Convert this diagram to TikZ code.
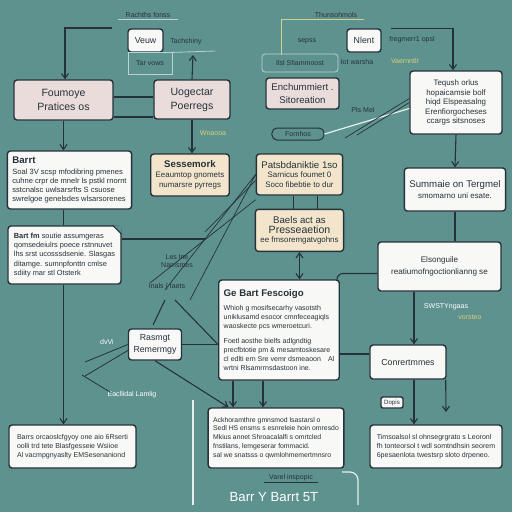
\documentclass[tikz,border=0pt]{standalone}
\usepackage{fontspec}
\setmainfont{Liberation Sans}
\usetikzlibrary{arrows.meta,positioning}
\usepackage{xcolor}
\definecolor{teal50}{HTML}{5E928F}
\definecolor{ink90}{HTML}{26323A}
\definecolor{rose10}{HTML}{EADCDB}
\definecolor{sand10}{HTML}{F2E5CC}
\definecolor{paper}{HTML}{F8F8F6}
\definecolor{mist}{HTML}{B9D3CF}
\definecolor{straw}{HTML}{D9CF7A}
\newlength\pxu
\setlength\pxu{0.02cm}

\begin{document}
\begin{tikzpicture}[x=0.02cm, y=-0.02cm,
    card/.style={draw=ink90, line width=1.4\pxu, rounded corners=3\pxu, fill=paper, text=ink90, inner xsep=5\pxu, inner ysep=3\pxu, font=\fontsize{4}{5}\selectfont},
    rosebox/.style={card, fill=rose10, align=center, font=\fontsize{6}{8}\selectfont},
    sandbox/.style={card, fill=sand10, align=center, font=\fontsize{4.5}{5.6}\selectfont},
    link/.style={draw=ink90, line width=1.1\pxu},
    arrow/.style={link, -{Straight Barb[length=2.8pt, width=4pt]}},
    twoway/.style={link, {Straight Barb[length=2.8pt, width=4pt]}-{Straight Barb[length=2.8pt, width=4pt]}},
    faint/.style={draw=mist, line width=0.8\pxu},
    pale/.style={draw=white!85!teal50, line width=1.2\pxu},
    note/.style={font=\fontsize{4}{5}\selectfont, text=ink90, inner sep=1\pxu},
]
\fill[teal50] (0,0) rectangle (512,512);
\useasboundingbox (0,0) rectangle (512,512);

% top row
\node[card, font=\fontsize{5}{6}\selectfont, minimum width=35\pxu, minimum height=23\pxu] (veuw) at (145.5,40.5) {Veuw};
\node[card, font=\fontsize{5}{6}\selectfont, minimum width=34\pxu, minimum height=23\pxu] (nlent) at (364,40.5) {Nlent};

\node[rosebox, minimum width=99\pxu, minimum height=40\pxu] (foum) at (63.5,100) {Foumoye\\Pratices os};
\node[rosebox, minimum width=76\pxu, minimum height=39\pxu] (uoge) at (192,99.5) {Uogectar\\Poerregs};
\node[rosebox, font=\fontsize{5.5}{7.5}\selectfont, minimum width=73\pxu, minimum height=31\pxu] (ench) at (302.5,93.5) {Enchummiert .\\Sitoreation};
\node[card, align=center, font=\fontsize{4.5}{5.4}\selectfont, minimum width=92\pxu, minimum height=63\pxu] (tequ) at (456,102.5) {Teqush orlus\\hopaicamsie bolf\\hiqd Elspeasalng\\Erenfiorgocheses\\ccargs sitsnoses};

% middle
\node[card, align=left, font=\fontsize{4.3}{5.2}\selectfont, minimum width=123\pxu, minimum height=58\pxu] (barrt) at (69.5,180) {{\fontsize{5.5}{7}\selectfont\textbf{Barrt}}\\[2\pxu]Soal 3V scsp mfodibring pmenes\\cuhne crpr de mnelr ls pstkl rnornt\\sstcnalsc uwlsarsrfts S csuose\\swrelgoe genelsdes wlsarsorenes};
\node[sandbox, minimum width=78\pxu, minimum height=42\pxu] (sess) at (190,175) {{\fontsize{5.5}{7}\selectfont\textbf{Sessemork}}\\Eeaumtop gnomets\\numarsre pyrregs};
\node[sandbox, minimum width=77\pxu, minimum height=41\pxu] (pats) at (299.5,174.5) {{\fontsize{5.5}{7}\selectfont Patsbdaniktie 1so}\\Sarnicus foumet 0\\Soco fibebtie to dur};
\node[sandbox, minimum width=81\pxu, minimum height=42\pxu, below=13\pxu of pats] (baels) {{\fontsize{5.5}{7}\selectfont Baels act as}\\{\fontsize{6}{7.5}\selectfont Presseaetion}\\ee fmsoremgatvgohns};
\node[card, align=center, font=\fontsize{4.5}{6}\selectfont, minimum width=92\pxu, minimum height=43\pxu] (summ) at (455,189.5) {{\fontsize{5.5}{7}\selectfont Summaie on Tergmel}\\smomarno uni esate.};

\node[card, align=left, font=\fontsize{4.2}{5.2}\selectfont, minimum width=113\pxu, minimum height=58\pxu] (bartfm) at (64.5,255) {\textbf{Bart fm} soutie assumgeras\\qomsedeiulrs poece rstnnuvet\\lhs srst ucosssdsenie. Slasgas\\ditamge. sumnpfonttn cmlse\\sdiity mar stl Otsterk};
\fill[teal50] ([xshift=-9\pxu]bartfm.north east) -- (bartfm.north east) -- ([yshift=-9\pxu]bartfm.north east) -- cycle;
\draw[link] ([xshift=-9\pxu]bartfm.north east) -- ([yshift=-9\pxu]bartfm.north east);

\node[card, align=left, minimum width=120\pxu, minimum height=100\pxu] (gebart) at (279,330) {{\fontsize{5.5}{7}\selectfont\textbf{Ge Bart Fescoigo}}\\[5\pxu]Whioh g mosifsecarhy vasotsth\\uniklusamd esocor cmnfeceagiqls\\waoskecte pcs wmeroetcuri.\\[7\pxu]Foetl aosthe bielfs adlgndtig\\precfbtotie pm \& mesamtoskesare\\cl edlti ern Sre vemr dsmeaoon\quad Al\\wrtni Rlsamrrnsdastoon ine.};
\node[card, align=center, font=\fontsize{4.6}{6.5}\selectfont, minimum width=123\pxu, minimum height=49\pxu] (elson) at (439.5,266.5) {Elsonguile\\reatiumofngoctionlianng se};

% lower part
\node[card, align=center, font=\fontsize{5}{6.5}\selectfont, minimum width=52\pxu, minimum height=31\pxu] (rasm) at (155,344.5) {Rasmgt\\Remermgy};
\node[card, font=\fontsize{5}{6}\selectfont, minimum width=76\pxu, minimum height=34\pxu] (conr) at (408,362) {Conrertmmes};
\node[card, font=\fontsize{3.5}{4}\selectfont, rounded corners=2\pxu, inner sep=1\pxu, minimum width=22\pxu, minimum height=11\pxu] (dopis) at (392,402.5) {Dopis};
\node[card, align=left, minimum width=127\pxu, minimum height=43\pxu] (barrs) at (72.5,446.5) {Barrs orcaoslcfgyoy one aio 6Rserti\\oolli trd tete Blasfgesseie Wsiioe\\Al vacmpgnyaslty EMSesenaniond};
\node[card, align=left, font=\fontsize{3.9}{5}\selectfont, minimum width=130\pxu, minimum height=60\pxu] (midb) at (276,438) {Ackhoramthre gmnsmod lsastarsl o\\Sedl HS ensms s esnreleie hoin omresdo\\Mkius annet Shroacalalfi s omrtcled\\fnstilans, lemgeserar fommacid.\\sal we snatsss o qwmlohmemertmnsro};
\node[card, align=left, minimum width=132\pxu, minimum height=43\pxu] (rightb) at (436,446.5) {Timsoalsol sl ohnsegrgrato s Leoronl\\fh tonteorsol t wdl somtndhsin seorem\\6pesaenlota twestsrp sloto drpeneo.};

% loose labels
\node[note] (n1) at (148,15) {Rachths fonss};
\node[note] (n2) at (336,15) {Thunsohmols};
\node[note] (n3) at (307,41) {sepss};
\node[note] (n4) at (186,42) {Tachshiny};
\node[note, draw=mist, line width=0.8\pxu, minimum width=44\pxu, minimum height=22\pxu] (n5) at (150,63) {Tar vows};
\node[note] (n6) at (412,40) {fregmerr1 opsl};
\node[note, draw=mist, line width=0.8\pxu, rounded corners=3\pxu, minimum width=76\pxu, minimum height=18\pxu] (n7) at (300,63) {Ilsl Sfiammoost};
\node[note] (n8) at (357,62) {Iot warsha};
\node[note, text=straw] (n9) at (405,61) {Vaernntlr};
\node[note, draw=ink90, line width=1\pxu, rounded corners=5\pxu, minimum width=52\pxu, minimum height=12\pxu] (n10) at (298,134) {Fornhos};
\node[note] (n11) at (363,110) {Pls Mel};
\node[note, text=straw] (n12) at (213,133) {Wnaooa};
\node[note, align=center] (n13) at (177,261) {Les lne\\Namsmes};
\node[note] (n14) at (167,287) {Inals ( taets};
\node[note, text=white] (n15) at (107,342) {dvVi};
\node[note, text=white] (n16) at (132,395) {Eacllidal Lamlig};
\node[note, text=white] (n17) at (446,307) {SWSTYngaas};
\node[note, text=straw] (n18) at (470,317) {vorsteo};
\node[note] (n19) at (291,478) {Varel inspopic};
\node[note, text=white, font=\fontsize{7.5}{9}\selectfont] (n20) at (274,497) {Barr Y Barrt 5T};

% free ends
\coordinate (tl) at (65,28);
\coordinate (tlr) at (112,28);
\coordinate (ut) at (193,55);
\coordinate (cn) at (446,412);
\coordinate (mid) at (205,239);
\coordinate (lw1) at (193,400);
\coordinate (lw2) at (193,505);
\coordinate (rw1) at (342,472);
\coordinate (rw2) at (358,505);
\coordinate (th) at (281,55);

% connectors
\draw[faint] ([xshift=-6\pxu]n1.south west) -- ([xshift=6\pxu]n1.south east);
\draw[faint, draw=straw!70!mist] (th) |- ([xshift=6\pxu]n2.south east);
\draw[faint] (veuw.south east) -- (215,51);
\draw[arrow] (tlr) -- (tl) -- (tl |- foum.north);
\draw[arrow] ([xshift=9\pxu]nlent.north east) -| ([xshift=-3\pxu]tequ.north);
\draw[arrow] (uoge.north) -- (ut);
\draw[link] ([yshift=3\pxu]foum.east) -- ([yshift=3\pxu]foum.east -| uoge.west);
\draw[link] ([yshift=-17\pxu]foum.east) -- ([yshift=-17\pxu]foum.east -| uoge.west);
\draw[arrow] (uoge.south) -- (uoge.south |- sess.north);
\draw[arrow] (foum.south) -- (foum.south |- barrt.north);
\draw[link] (foum.south |- barrt.south) -- (foum.south |- bartfm.north);
\draw[arrow] (foum.south |- bartfm.south) -- (foum.south |- barrs.north);
\draw[link] ([yshift=16\pxu]bartfm.east) -- (mid);

\draw[arrow] (tequ.south) -- (summ.north);
\draw[link] (summ.south) -- (summ.south |- elson.north);
\draw[arrow] ([xshift=6\pxu]conr.north |- elson.south) -- ([xshift=6\pxu]conr.north);
\draw[arrow] ([xshift=6\pxu]conr.south) -- ([xshift=6\pxu]conr.south |- rightb.north);
\draw[arrow] ([xshift=-1\pxu]conr.south east) -- (cn);
\draw[link] ([yshift=8\pxu]conr.west) -- ([yshift=8\pxu]conr.west -| gebart.east);
\draw[link] (rasm.east) -- (rasm.east -| gebart.west);
\draw[arrow] (rasm.south) -- ([xshift=21\pxu]midb.north west);
\draw[twoway] (baels.south) -- (baels.south |- gebart.north);
\draw[link] ([xshift=-6\pxu]pats.south) -- ([xshift=-6\pxu]baels.north);
\draw[link] ([xshift=18\pxu]pats.south) -- ([xshift=18\pxu]baels.north);
\draw[link, rounded corners=6\pxu] ([xshift=-3\pxu]gebart.north east) |- ([yshift=-7\pxu]elson.west);
\draw[arrow] ([xshift=-46\pxu]gebart.south) -- ([xshift=-46\pxu]gebart.south |- midb.north);
\draw[arrow] ([xshift=-16\pxu]gebart.south) -- ([xshift=-16\pxu]gebart.south |- midb.north);

\draw[pale] (n10.east) -- ([yshift=-6\pxu]tequ.west);
\draw[link, line width=0.7\pxu] (345,138) -- ([yshift=4\pxu]tequ.west);
\draw[link, line width=0.7\pxu] (tequ.west) -- (357,135);
\draw[link, line width=0.7\pxu] (pats.west) -- (165,290);
\draw[link, line width=0.7\pxu] (pats.west) -- (190,300);
\draw[link, line width=0.7\pxu] ([yshift=-4\pxu]pats.south west) -- (150,283);
\draw[link, line width=0.7\pxu] ([yshift=-6\pxu]pats.west) -- (205,232);
\draw[link] (165,300) -- (153,325);
\draw[link] (175,300) -- (rasm.east -| gebart.west);
\draw[link, line width=0.8\pxu] (rasm.west) -- (85,362);
\draw[link, line width=0.8\pxu] ([yshift=-6\pxu]rasm.west) -- (85,376);
\draw[link, line width=0.8\pxu] (82,375) -- (110,392);
\draw[link] ([xshift=-4\pxu]n19.south west) -- ([xshift=4\pxu]n19.south east);
\draw[pale] (lw1) -- (lw2);
\draw[pale, rounded corners=8\pxu] (rw1) -| (rw2);
\end{tikzpicture}
\end{document}
